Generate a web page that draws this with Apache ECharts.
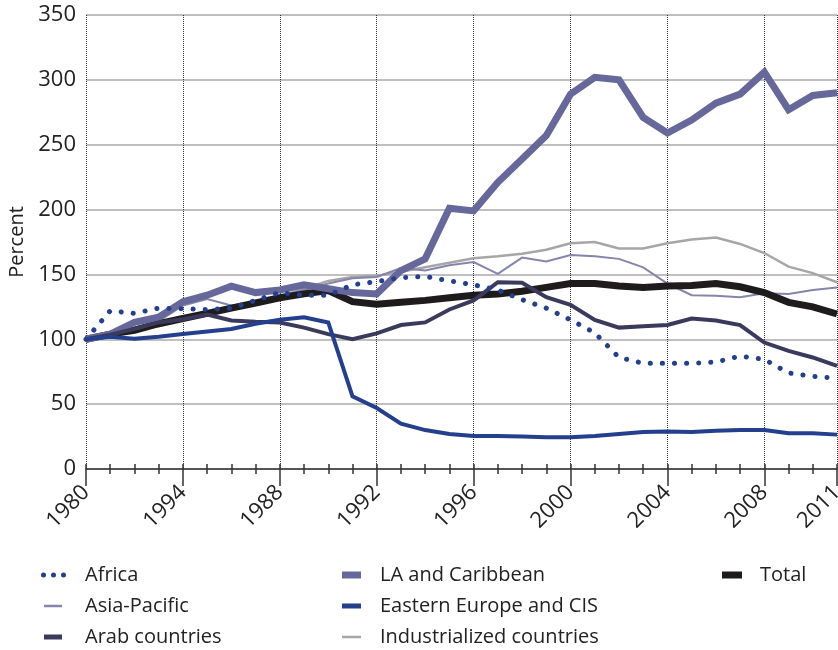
<!DOCTYPE html>
<html>
<head>
<meta charset="utf-8">
<script src="https://cdn.jsdelivr.net/npm/echarts@6/dist/echarts.min.js"></script>
<style>
  html, body { margin: 0; padding: 0; background: #fff; }
  #chart { width: 838px; height: 650px; }
</style>
</head>
<body>
<div id="chart"></div>
<script>
// years on the x axis
const years = [];
for (let y = 1980; y <= 2011; y++) years.push(String(y));
// tick labels as printed (the second one reads 1994 in the original)
const tickLabels = ["1980", "1994", "1988", "1992", "1996", "2000", "2004", "2008", "2011"];

const africa = [100, 122, 120, 124, 123.5, 123, 124, 130, 136, 134, 134, 142, 144.5, 147.5, 148.5, 145,
  142, 138, 130.5, 124, 115, 105, 86, 81.5, 81.5, 81.5, 82.5, 87, 84.5, 74, 71.5, 70];
const asiaPacific = [100, 102, 109, 114, 126, 131, 126, 129, 133, 138, 143, 147, 148, 155, 153, 157,
  159.5, 150.5, 163, 160, 165, 164, 162, 155.5, 143, 134, 133.5, 132.5, 135.5, 135, 138, 140];
const arab = [100, 103.5, 108, 113, 115.5, 119, 114.5, 113.5, 113, 109, 104, 100, 104.5, 111, 113, 123,
  130, 144, 143.5, 132.5, 126.5, 115, 109, 110, 111, 116, 114.5, 111, 97.5, 91, 86, 79.5];
const laCaribbean = [100, 104, 113, 117, 129, 134, 141, 136, 138, 142, 139, 136, 135, 153, 162, 201,
  199, 221, 239, 257, 289, 302, 300, 271, 259, 269, 282, 289, 306, 277, 288, 290];
const easternEurope = [100, 102, 100.5, 102, 104, 106, 108, 112, 115, 117, 113, 56, 47, 35, 30, 27,
  25.5, 25.5, 25, 24.5, 24.5, 25.5, 27, 28.5, 29, 28.5, 29.5, 30, 30, 27.5, 27.5, 26.5];
const industrialized = [100, 103, 107, 110, 115, 120, 125, 129, 133, 139, 145, 148, 149, 152, 155.5, 159,
  162.5, 164, 166, 169, 174, 175, 170, 170, 174, 177, 178.5, 173.5, 166.5, 156, 151, 144];
const total = [100, 104, 107, 112, 116, 120, 124, 128, 132, 135, 137.5, 129, 127, 128.5, 130, 132,
  134, 135, 137, 140, 143, 143, 141, 140, 141, 141.5, 143, 140.5, 136, 128.5, 125, 119.5];

const FONT = "Open Sans";
const isMajor = (i) => i % 4 === 0 || i === years.length - 1;
const majorLabel = (i) => tickLabels[i === years.length - 1 ? tickLabels.length - 1 : i / 4];

// the labels may stick out of the box, the plot area stays fixed
const gridBox = { left: 86, right: 1, top: 15, bottom: 181, outerBoundsMode: "none", containLabel: false };

// small helper for one legend entry
function legendItem(name, icon, left, centerY, w, h, pad) {
  return {
    data: [{ name: name, icon: icon }],
    left: left,
    top: centerY - 9,
    padding: 0,
    itemWidth: w,
    itemHeight: h,
    selectedMode: false,
    itemStyle: { borderWidth: 0 },
    textStyle: { fontFamily: FONT, fontSize: 20, color: "#222", padding: [0, 0, 0, pad] },
  };
}

const dots = "path://M0,2.5a2.5,2.5 0 1,0 5,0a2.5,2.5 0 1,0 -5,0" +
  "M10,2.5a2.5,2.5 0 1,0 5,0a2.5,2.5 0 1,0 -5,0" +
  "M20,2.5a2.5,2.5 0 1,0 5,0a2.5,2.5 0 1,0 -5,0";

function line(name, data, color, width, extra) {
  return Object.assign({
    name: name,
    type: "line",
    data: data,
    color: color,
    symbol: "none",
    showSymbol: false,
    lineStyle: { color: color, width: width, join: "miter" },
  }, extra || {});
}

const option = {
  animation: false,
  grid: [
    Object.assign({}, gridBox),
    Object.assign({}, gridBox),
    Object.assign({}, gridBox),
  ],
  xAxis: [
    {
      type: "category",
      data: years,
      boundaryGap: false,
      axisLine: { lineStyle: { color: "#333", width: 1.5 } },
      axisTick: { interval: (i) => isMajor(i), length: 17, lineStyle: { color: "#333", width: 1.5 } },
      axisLabel: {
        interval: (i) => isMajor(i),
        formatter: (v, i) => majorLabel(i),
        rotate: 45,
        margin: 20,
        fontFamily: FONT,
        fontSize: 22,
        color: "#222",
      },
      splitLine: { show: true, interval: (i) => isMajor(i), lineStyle: { color: "#333", type: "dotted", width: 1 } },
    },
    {
      gridIndex: 1,
      type: "category",
      data: years,
      boundaryGap: false,
      axisLine: { show: false },
      axisTick: { interval: 0, length: 5, lineStyle: { color: "#333", width: 1.5 } },
      axisLabel: { show: false },
      splitLine: { show: false },
    },
    {
      gridIndex: 2,
      type: "category",
      data: years,
      boundaryGap: false,
      axisLine: { show: false },
      axisTick: { interval: 0, inside: true, length: 5, lineStyle: { color: "#333", width: 1.5 } },
      axisLabel: { show: false },
      splitLine: { show: false },
    },
  ],
  yAxis: [
    {
      type: "value",
      min: 0,
      max: 350,
      interval: 50,
      name: "Percent",
      nameLocation: "middle",
      nameRotate: 90,
      nameGap: 57,
      nameTextStyle: { fontFamily: FONT, fontSize: 20, color: "#222" },
      axisLine: { show: false },
      axisTick: { show: false },
      axisLabel: { fontFamily: FONT, fontSize: 22, color: "#222", margin: 10 },
      splitLine: { lineStyle: { color: "#aaa", width: 1.5 } },
    },
    { gridIndex: 1, type: "value", min: 0, max: 350, show: false },
    { gridIndex: 2, type: "value", min: 0, max: 350, show: false },
  ],
  legend: [
    legendItem("Africa", dots, 41, 574, 25, 5, 14),
    legendItem("Asia-Pacific", "rect", 44, 605, 18, 2.5, 18),
    legendItem("Arab countries", "rect", 44, 636, 18, 5, 18),
    legendItem("LA and Caribbean", "rect", 342, 574, 19, 7, 14),
    legendItem("Eastern Europe and CIS", "rect", 342, 605, 19, 5, 14),
    legendItem("Industrialized countries", "rect", 342, 636, 19, 2.5, 14),
    legendItem("Total", "rect", 722, 574, 20, 7, 13),
  ],
  series: [
    line("Industrialized countries", industrialized, "#a6a6a6", 2.5),
    line("Asia-Pacific", asiaPacific, "#8584ad", 2),
    line("Total", total, "#1e1b1c", 7),
    line("LA and Caribbean", laCaribbean, "#66679a", 7),
    line("Arab countries", arab, "#3a3a5c", 4),
    line("Eastern Europe and CIS", easternEurope, "#243f8e", 4),
    line("Africa", africa, "#233f8f", 5, {
      lineStyle: { color: "#233f8f", width: 5, type: [0.1, 12], cap: "round" },
    }),
  ],
};

const chartObj = echarts.init(document.getElementById("chart"));
chartObj.setOption(option);
window.onresize = chartObj.resize;
</script>
</body>
</html>
